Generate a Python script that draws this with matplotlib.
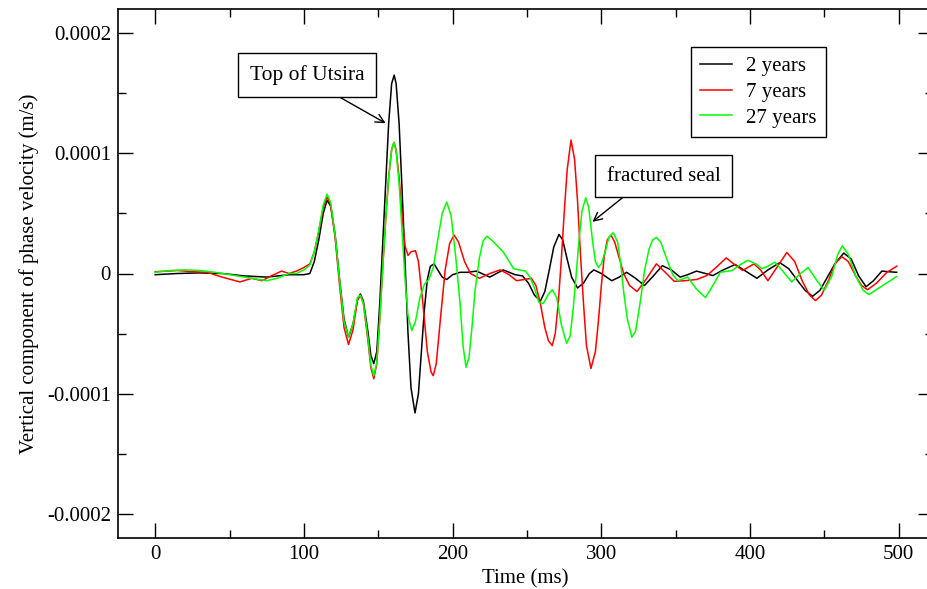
import numpy as np
import matplotlib
matplotlib.use("Agg")
from matplotlib import pyplot as plt
from matplotlib.ticker import FixedLocator, MultipleLocator

plt.rcParams['font.family'] = ['Liberation Serif', 'DejaVu Serif']

# velocity values, in units of 1e-5 m/s
t_2y = [0, 15, 30, 45, 60, 75, 90, 100, 104, 107, 110, 113, 115.6, 118, 121, 124, 127, 130,
        133, 136, 138, 140, 143, 145, 147, 149, 151, 153, 155, 157, 159, 160.7, 162, 164, 166,
        168, 170, 172, 174.7, 177, 179, 181, 183, 185, 187.5, 190, 193, 196, 200, 205, 210,
        216, 225, 234, 242, 247, 251, 255, 259, 262, 265, 268, 271.5, 274, 277, 280, 284, 288,
        292, 295, 300, 307, 312, 317, 323, 329, 335, 341, 347, 353, 358, 364, 370, 375, 382,
        390, 397, 404.6, 412, 420, 426, 432, 437, 442, 447, 452, 457, 463, 468, 473, 478, 483,
        488.6, 493, 498.6]
v_2y = [-0.1, 0.0, 0.05, 0.0, -0.2, -0.3, -0.1, -0.1, 0.0, 1.0, 2.8, 5.0, 6.1, 5.6, 3.2, -0.5,
        -3.8, -5.3, -4.2, -2.2, -1.7, -2.3, -4.8, -6.8, -7.5, -6.5, -2.5, 2.5, 7.5, 12.5, 15.8,
        16.5, 15.8, 12.5, 7.0, 1.0, -5.0, -9.5, -11.6, -10.0, -6.5, -3.0, -0.5, 0.6, 0.8, 0.3,
        -0.3, -0.5, -0.1, 0.1, 0.1, 0.2, -0.3, 0.3, -0.1, -0.2, -0.8, -1.8, -2.3, -1.5, 0.3,
        2.2, 3.25, 2.8, 1.2, -0.3, -1.2, -0.8, 0.0, 0.3, 0.0, -0.6, -0.3, 0.1, -0.4, -1.0,
        -0.2, 0.65, 0.3, -0.3, -0.1, 0.2, 0.0, -0.17, 0.3, 0.75, 0.2, -0.4, 0.3, 0.9, 0.4,
        -0.6, -1.4, -1.9, -1.4, -0.3, 0.8, 1.7, 1.2, -0.2, -1.1, -0.6, 0.2, 0.15, 0.1]

t_7y = [0, 8, 15, 25, 35, 45, 57, 65, 72, 78, 85, 90, 95, 100, 104, 107, 110, 113, 115.6, 118,
        121, 124, 127, 130, 133, 136, 138, 140, 143, 145, 147, 149, 151, 153, 155, 157, 159,
        160.5, 162, 164, 166, 168, 170, 172, 175, 177, 180, 183, 185.5, 187, 189, 192, 195,
        198, 201, 204, 208, 212, 218, 225, 232, 238, 243, 248, 253, 256, 259, 262, 264.5, 267,
        269, 271, 273, 275, 277, 279.6, 282, 284, 286, 288, 290, 293, 296, 298, 300, 302, 304,
        306.5, 309, 312, 315, 319, 324, 330, 337, 343, 349, 356, 364, 371, 378, 384, 389, 395,
        402.6, 407, 412, 418, 424.7, 430, 435, 440, 444, 448, 453, 457, 461.7, 466, 471, 475,
        479, 485, 492, 498.6]
v_7y = [0.15, 0.2, 0.25, 0.15, 0.1, -0.3, -0.7, -0.4, -0.6, -0.2, 0.2, 0.0, 0.2, 0.5, 0.8, 1.8,
        3.5, 5.5, 6.4, 5.7, 3.0, -1.0, -4.5, -5.9, -4.7, -2.2, -1.8, -2.5, -5.5, -7.8, -8.75,
        -7.5, -3.8, 0.5, 4.5, 8.0, 10.3, 10.9, 10.3, 8.0, 4.8, 2.3, 1.5, 1.8, 1.9, 1.0, -2.5,
        -6.5, -8.2, -8.5, -7.5, -3.5, 0.3, 2.5, 3.2, 2.6, 1.0, 0.0, -0.4, 0.0, 0.3, -0.1, -0.6,
        -0.5, -0.4, -1.0, -2.5, -4.5, -5.6, -6.0, -5.0, -2.5, 1.0, 5.0, 8.6, 11.1, 9.5, 6.0,
        1.5, -2.5, -6.0, -7.9, -6.5, -4.0, -1.0, 1.5, 2.8, 3.2, 2.6, 1.3, 0.0, -1.0, -1.5,
        -0.5, 0.8, 0.1, -0.65, -0.6, -0.5, -0.17, 0.6, 1.3, 0.8, 0.25, 0.8, 0.3, -0.6, 0.5,
        1.75, 1.0, -0.6, -1.8, -2.25, -1.8, -0.5, 0.8, 1.4, 1.0, -0.2, -1.0, -1.35, -0.8, 0.1,
        0.6]

t_27y = [0, 10, 20, 30, 40, 50, 60, 70, 75, 82, 90, 95, 100, 104, 107, 110, 113, 115.6, 118,
         121, 124, 127, 130, 133, 136, 138, 140, 143, 145, 147, 149, 151, 153, 155, 157, 159,
         160.5, 162, 164, 166, 168, 170, 172.5, 175, 178, 181, 184, 187, 190, 193, 196, 199,
         202, 205, 207, 209, 211, 213, 215, 218, 220.5, 223, 226, 230, 234, 238, 241, 245, 249,
         252, 255, 258, 261, 264, 267, 270, 273, 276.6, 279, 281, 283, 285, 287, 289.5, 291.5,
         294, 296, 298, 300, 303, 305, 308, 311, 313, 315, 317.5, 320.5, 323, 326, 329, 332,
         334.5, 337, 340, 344, 348, 351.5, 358, 364, 370, 375, 380, 388, 393, 398.6, 404, 408,
         412, 416.7, 422, 428, 433, 439, 445, 450, 455, 459, 462, 466, 471, 476, 480, 488,
         498.6]
v_27y = [0.1, 0.25, 0.3, 0.25, 0.1, -0.1, -0.3, -0.5, -0.6, -0.4, 0.0, 0.0, 0.3, 0.7, 1.8, 3.6,
         5.7, 6.6, 5.9, 3.2, -0.6, -4.0, -5.3, -4.2, -2.0, -1.8, -2.5, -5.3, -7.6, -8.5, -7.4,
         -3.8, 0.5, 4.5, 8.0, 10.3, 10.9, 10.2, 7.5, 3.5, -0.5, -3.5, -4.75, -4.0, -2.0, -0.9,
         -0.5, 0.5, 2.8, 5.0, 5.95, 4.8, 1.5, -2.5, -6.0, -7.8, -7.0, -4.5, -1.5, 1.3, 2.7, 3.1,
         2.8, 2.3, 1.8, 1.0, 0.4, 0.3, 0.2, -0.3, -1.2, -2.4, -2.5, -1.8, -1.35, -2.0, -4.2,
         -5.8, -5.2, -3.0, -0.2, 2.8, 5.2, 6.3, 5.5, 2.8, 1.0, 0.5, 0.8, 2.0, 3.0, 3.4, 2.6,
         0.8, -1.5, -3.8, -5.3, -4.8, -2.5, 0.2, 2.0, 2.8, 3.0, 2.6, 1.2, -0.1, -0.6, -0.3,
         -1.3, -2.0, -1.0, 0.1, 0.25, 0.7, 1.1, 0.8, 0.4, 0.6, 0.95, 0.2, -0.7, -0.1, 0.5, -0.6,
         -1.4, -0.2, 1.6, 2.3, 1.6, -0.2, -1.4, -1.75, -1.1, -0.25]

labels = ["2 years", "7 years", "27 years"]
colors = ["black", "red", "#00ff00"]
y_ticks = [-0.0002, -0.0001, 0, 0.0001, 0.0002]
y_tick_labels = ["-0.0002", "-0.0001", "0", "0.0001", "0.0002"]

fig = plt.figure(figsize=(9.28, 5.89), dpi=100)
# right edge of the frame sits just past the picture, like the original
ax = fig.add_axes([118 / 928, 51 / 589, 815 / 928, 529 / 589])

series = [(t_2y, v_2y), (t_7y, v_7y), (t_27y, v_27y)]
for (t, v), lab, c in zip(series, labels, colors):
    ax.plot(t, np.array(v) * 1e-5, color=c, lw=1.1, label=lab)

ax.set_xlim(-25, 523)
ax.set_ylim(-0.00022, 0.00022)
ax.xaxis.set_major_locator(MultipleLocator(100))
ax.xaxis.set_minor_locator(MultipleLocator(50))
ax.yaxis.set_major_locator(FixedLocator(y_ticks))
ax.yaxis.set_minor_locator(MultipleLocator(0.00005))
ax.set_yticklabels(y_tick_labels)
ax.tick_params(which='both', direction='in', top=True, right=True, labelsize=15, width=1)
ax.tick_params(which='major', length=11, pad=5)
ax.tick_params(which='minor', length=6)
for s in ax.spines.values():
    s.set_linewidth(1.2)

ax.set_xlabel("Time (ms)", fontsize=15, labelpad=4)
ax.set_ylabel("Vertical component of phase velocity (m/s)", fontsize=15, labelpad=6)

leg = ax.legend(loc='upper left', bbox_to_anchor=(0.703, 0.928), fontsize=15,
                frameon=True, fancybox=False, edgecolor='black', framealpha=1,
                borderaxespad=0, handlelength=1.5, handletextpad=0.7, labelspacing=0.3,
                borderpad=0.45)
leg.get_frame().set_linewidth(1)

box = dict(boxstyle='square,pad=0.55', fc='white', ec='black', lw=1)
ax.annotate("Top of Utsira", xy=(155, 0.000125), xytext=(102, 0.000165),
            fontsize=15.5, ha='center', va='center', bbox=box,
            arrowprops=dict(arrowstyle='->', color='black', lw=1, shrinkA=0, shrinkB=0,
                            relpos=(0.6, 0.0)))
ax.annotate("fractured seal", xy=(294, 0.000043), xytext=(342, 0.000081),
            fontsize=15, ha='center', va='center', bbox=box,
            arrowprops=dict(arrowstyle='->', color='black', lw=1, shrinkA=0, shrinkB=0,
                            relpos=(0.27, 0.0)))

fig.savefig("out.png", dpi=100)
